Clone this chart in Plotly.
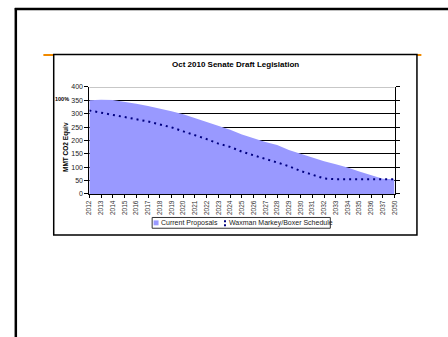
import plotly.graph_objects as go

years = ["2012", "2013", "2014", "2015", "2016", "2017", "2018", "2019", "2020",
         "2021", "2022", "2023", "2024", "2025", "2026", "2027", "2028", "2029",
         "2030", "2031", "2032", "2033", "2034", "2035", "2036", "2037", "2050"]
current_proposals = [350, 352, 351, 345, 337, 329, 320, 309, 298, 284, 268, 254, 240,
                     222, 208, 194, 183, 164, 150, 135, 122, 111, 99, 84, 70, 57, 55]
waxman_schedule = [312, 304, 296, 288, 280, 271, 260, 249, 234, 220, 205, 188, 176,
                   158, 144, 131, 118, 104, 86, 73, 58, 55, 55, 55, 55, 55, 55]
y_ticks = [0, 50, 100, 150, 200, 250, 300, 350, 400]
series_names = ["Current Proposals", "Waxman Markey/Boxer Schedule"]

W, H = 448, 337
def px(x):
    return x / W
def py(y):
    return 1 - y / H

AREA = "#9999FF"
NAVY = "#000080"

fig = go.Figure()
fig.add_trace(go.Scatter(x=years, y=current_proposals, name=series_names[0],
                         mode="lines", fill="tozeroy", fillcolor=AREA,
                         line=dict(width=0, color=AREA), showlegend=False))
fig.add_trace(go.Scatter(x=years, y=waxman_schedule, name=series_names[1],
                         mode="lines", line=dict(color=NAVY, width=2, dash="2px,4px"),
                         showlegend=False))

font = "Liberation Sans, Arial, sans-serif"
fig.update_layout(
    width=W, height=H, margin=dict(l=0, r=0, t=0, b=0),
    paper_bgcolor="white", plot_bgcolor="#C0C0C0",
    font=dict(family=font, size=7, color="black"),
    showlegend=False,
    xaxis=dict(domain=[px(86.7), px(396.7)], type="category", range=[0, 26],
               tickangle=-90, showgrid=False, showline=True, linecolor="black",
               linewidth=1, ticks="outside", ticklen=3, tickcolor="black",
               tickfont=dict(size=6.5, color="#333333"), zeroline=False, fixedrange=True),
    yaxis=dict(domain=[py(194), py(84.7)], range=[0, 400], tickvals=y_ticks,
               showgrid=True, gridcolor="black", gridwidth=1, showline=True,
               linecolor="black", linewidth=1, mirror="ticks", ticks="outside",
               ticklen=4, tickcolor="black", tickfont=dict(size=7, color="#222222"),
               zeroline=False, fixedrange=True),
)

shapes = [
    # orange header rule
    dict(type="line", xref="paper", yref="paper", x0=px(40), x1=px(424),
         y0=py(52), y1=py(52), line=dict(color="#F08A00", width=2), layer="below"),
    # chart box
    dict(type="rect", xref="paper", yref="paper", x0=px(50.5), x1=px(419.5),
         y0=py(236), y1=py(51.5), line=dict(color="black", width=1.5),
         fillcolor="white", layer="below"),
    # outer frame
    dict(type="line", xref="paper", yref="paper", x0=px(11), x1=1.01,
         y0=py(5), y1=py(5), line=dict(color="black", width=2.5)),
    dict(type="line", xref="paper", yref="paper", x0=px(12), x1=px(12),
         y0=py(4), y1=-0.01, line=dict(color="black", width=2.5)),
    # top plot edge (grey)
    dict(type="line", xref="x domain", yref="y", x0=0, x1=1, y0=400, y1=400,
         line=dict(color="#808080", width=1)),
    # custom legend box
    dict(type="rect", xref="paper", yref="paper", x0=px(150.5), x1=px(331.5),
         y0=py(229), y1=py(218), line=dict(color="#333333", width=1),
         fillcolor="white"),
    dict(type="rect", xref="paper", yref="paper", x0=px(152), x1=px(157),
         y0=py(226), y1=py(221), line=dict(width=0), fillcolor=AREA),
    dict(type="line", xref="paper", yref="paper", x0=px(224.5), x1=px(224.5),
         y0=py(227), y1=py(220), line=dict(color=NAVY, width=2, dash="2px,2px")),
]
fig.update_layout(shapes=shapes)

fig.add_annotation(text="<b>Oct 2010 Senate Draft Legislation</b>", xref="paper", yref="paper",
                   x=px(235), y=py(62), xanchor="center", yanchor="middle",
                   showarrow=False, font=dict(size=8, family=font))
fig.add_annotation(text="<b>MMT CO2 Equiv</b>", xref="paper", yref="paper",
                   x=px(63), y=py(146), xanchor="center", yanchor="middle",
                   textangle=-90, showarrow=False, font=dict(size=6.5, family=font))
fig.add_annotation(text="<b>100%</b>", xref="paper", yref="paper",
                   x=px(50), y=py(97.5), xanchor="left", yanchor="middle", showarrow=False,
                   font=dict(size=5.5, family=font))
fig.add_annotation(text=series_names[0], xref="paper", yref="paper",
                   x=px(157.5), y=py(223.5), xanchor="left", yanchor="middle",
                   showarrow=False, font=dict(size=7, family=font, color="#222222"))
fig.add_annotation(text=series_names[1], xref="paper", yref="paper",
                   x=px(226.5), y=py(223.5), xanchor="left", yanchor="middle",
                   showarrow=False, font=dict(size=7, family=font, color="#222222"))

fig.write_html("out.html")
